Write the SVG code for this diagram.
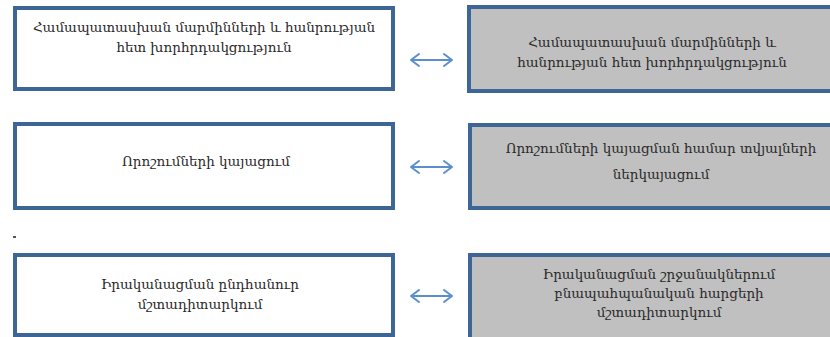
<svg xmlns="http://www.w3.org/2000/svg" width="830" height="337" viewBox="0 0 830 337">
<style>
.box{stroke:#3d6596;stroke-width:4;}
.w{fill:#ffffff;}
.g{fill:#c0c0c0;}
.t{font-family:"DejaVu Serif","Noto Sans",serif;font-size:13.5px;fill:#2a2a2a;text-anchor:middle;}
.arr{fill:none;stroke:#5b8fcb;stroke-width:2;stroke-linecap:round;stroke-linejoin:round;}
</style>
<rect width="830" height="337" fill="#ffffff"/>
<g id="n1">
<rect class="box w" x="15" y="8" width="378" height="81"/>
<text class="t" x="204" y="32">Համապատասխան մարմինների և հանրության</text>
<text class="t" x="204" y="52">հետ խորհրդակցություն</text>
</g>
<g id="n2">
<rect class="box g" x="469" y="7" width="364" height="84"/>
<text class="t" x="652" y="47">Համապատասխան մարմինների և</text>
<text class="t" x="652" y="67">հանրության հետ խորհրդակցություն</text>
</g>
<g id="n3">
<rect class="box w" x="15" y="124" width="378" height="84"/>
<text class="t" x="206" y="166">Որոշումների կայացում</text>
</g>
<g id="n4">
<rect class="box g" x="470" y="125" width="363" height="83"/>
<text class="t" x="661" y="153">Որոշումների կայացման համար տվյալների</text>
<text class="t" x="661" y="179">ներկայացում</text>
</g>
<g id="n5">
<rect class="box w" x="15" y="255" width="378" height="80"/>
<text class="t" x="200" y="289">Իրականացման ընդհանուր</text>
<text class="t" x="200" y="309">մշտադիտարկում</text>
</g>
<g id="n6">
<rect class="box g" x="470" y="255" width="363" height="86"/>
<text class="t" x="659" y="279">Իրականացման շրջանակներում</text>
<text class="t" x="659" y="298">բնապահպանական հարցերի</text>
<text class="t" x="659" y="317">մշտադիտարկում</text>
</g>
<rect x="13" y="236" width="3" height="2" fill="#555555"/>
<g id="connectors">
<path class="arr" d="M411 60H452M419 54L411 60L419 66M444 54L452 60L444 66"/>
<path class="arr" d="M411 167H452M419 161L411 167L419 173M444 161L452 167L444 173"/>
<path class="arr" d="M411 296H452M419 290L411 296L419 302M444 290L452 296L444 302"/>
</g>
</svg>
